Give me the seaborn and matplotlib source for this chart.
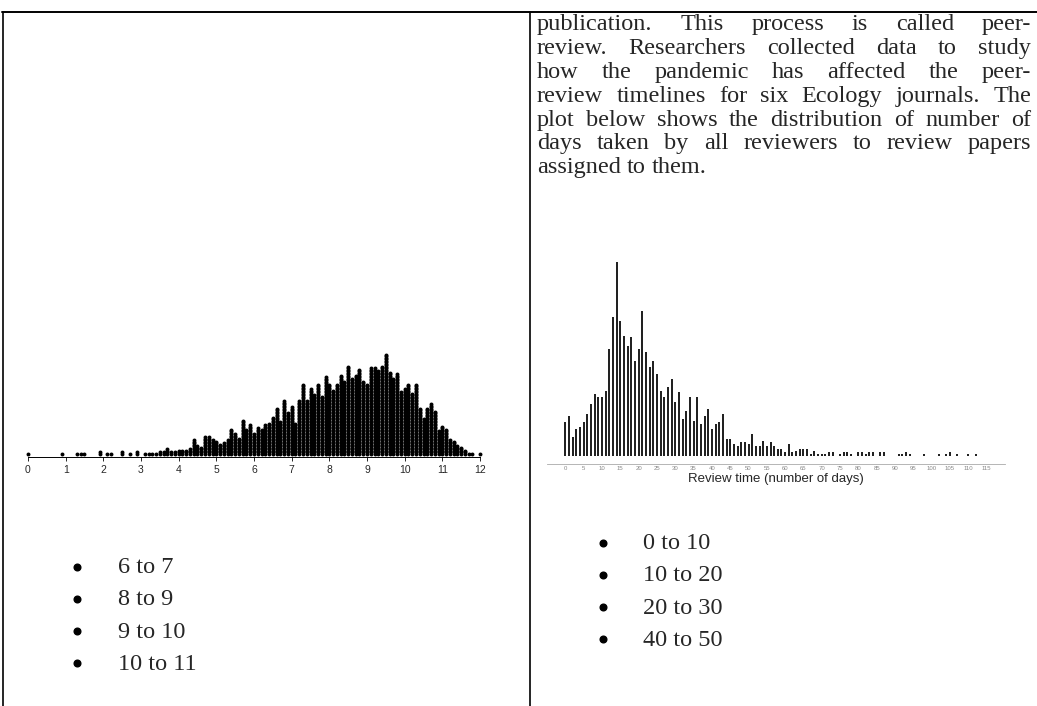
import numpy as np
import pandas as pd
import seaborn as sns
import matplotlib
matplotlib.use("Agg")
import matplotlib.pyplot as plt

# ---- data ----
# left dot plot: dots stacked at each score 0.0, 0.1, ..., 12.0
score_counts = [1, 0, 0, 0, 0, 0, 0, 0, 0, 1,
                0, 0, 0, 1, 1, 1, 0, 0, 0, 2,
                0, 1, 1, 0, 0, 2, 0, 1, 0, 2,
                0, 1, 1, 1, 1, 2, 2, 4, 2, 2,
                3, 3, 3, 4, 10, 6, 5, 12, 12, 10,
                9, 7, 8, 10, 17, 14, 11, 23, 17, 20,
                14, 18, 17, 20, 21, 25, 31, 22, 36, 28,
                32, 21, 36, 47, 36, 44, 40, 47, 39, 52,
                47, 43, 47, 53, 49, 59, 51, 53, 57, 49,
                47, 58, 58, 56, 59, 67, 55, 51, 54, 42,
                44, 47, 41, 47, 31, 24, 31, 34, 29, 16,
                19, 17, 10, 9, 6, 5, 3, 1, 1, 0,
                1]
score_ticks = list(range(0, 13))

# right dot plot: reviewers per review time (days 0..112)
day_counts = [20, 24, 11, 16, 17, 20, 25, 31, 37, 35,
              35, 39, 64, 83, 116, 81, 72, 66, 71, 57,
              64, 87, 62, 53, 57, 49, 39, 35, 41, 46,
              32, 38, 22, 27, 35, 21, 35, 19, 24, 28,
              16, 19, 20, 25, 10, 10, 7, 6, 8, 8,
              7, 13, 6, 6, 9, 6, 8, 6, 4, 4,
              2, 7, 2, 3, 4, 4, 4, 1, 3, 1,
              1, 1, 2, 2, 0, 1, 2, 2, 1, 0,
              2, 2, 1, 2, 2, 0, 2, 2, 0, 0,
              0, 1, 1, 2, 1, 0, 0, 0, 1, 0,
              0, 0, 1, 0, 1, 2, 0, 1, 0, 0,
              1, 0, 1]
day_ticks = list(range(0, 116, 5))
day_label = "Review time (number of days)"

paragraph = [
    "publication. This process is called peer-",
    "review. Researchers collected data to study",
    "how the pandemic has affected the peer-",
    "review timelines for six Ecology journals. The",
    "plot below shows the distribution of number of",
    "days taken by all reviewers to review papers",
    "assigned to them.",
]
left_options = ["6 to 7", "8 to 9", "9 to 10", "10 to 11"]
right_options = ["0 to 10", "10 to 20", "20 to 30", "40 to 50"]

# expand counts into stacked dots
left_x = np.arange(len(score_counts)) / 10
left_df = pd.DataFrame({
    "score": np.repeat(left_x, score_counts),
    "level": np.concatenate([np.arange(c) for c in score_counts]),
})
right_df = pd.DataFrame({
    "days": np.repeat(np.arange(len(day_counts)), day_counts),
    "level": np.concatenate([np.arange(c) + 0.5 for c in day_counts]),
})

sns.set_style("white")
plt.rcParams["font.family"] = ["Liberation Serif", "DejaVu Serif"]

W, H = 1037, 706
fig = plt.figure(figsize=(W / 100, H / 100), dpi=100)

# page layer in pixel coordinates
page = fig.add_axes([0, 0, 1, 1])
page.set_xlim(0, W)
page.set_ylim(H, 0)
page.axis("off")

# table borders
page.plot([2, W], [12, 12], color="black", lw=1.4)
page.plot([3, 3], [12, H], color="black", lw=1.2)
page.plot([530, 530], [12, H], color="black", lw=1.2)


def px_axes(left, top, right, bottom):
    return fig.add_axes([left / W, 1 - bottom / H, (right - left) / W, (bottom - top) / H])


# ---- left dot plot ----
ax1 = px_axes(20, 340, 490, 457.3)
sns.scatterplot(data=left_df, x="score", y="level", ax=ax1, s=8,
                color="black", linewidth=0, legend=False)
ax1.set_xlim(-8 / 37.67, 12 + 10 / 37.67)
ax1.set_ylim(-2.53, 75.7)
ax1.set_xticks(score_ticks)
ax1.set_xticklabels([str(t) for t in score_ticks], family="Liberation Sans", fontsize=7.5)
ax1.tick_params(axis="x", length=3.2, width=0.7, pad=2.5, bottom=True)
ax1.set_yticks([])
ax1.set_xlabel("")
ax1.set_ylabel("")
for s in ["left", "right", "top"]:
    ax1.spines[s].set_visible(False)
ax1.spines["bottom"].set_bounds(0, 12)
ax1.spines["bottom"].set_linewidth(0.7)
ax1.spines["bottom"].set_color("black")
ax1.patch.set_alpha(0)

# ---- right dot plot ----
ax2 = px_axes(547, 250, 1005, 464.3)
sns.scatterplot(data=right_df, x="days", y="level", ax=ax2, s=2.0,
                color="#222222", linewidth=0, marker="s", legend=False)
ax2.set_xlim(-5, 120)
ax2.set_ylim(-5.16, 123.4)
ax2.set_xticks(day_ticks)
ax2.set_xticklabels([str(t) for t in day_ticks], family="Liberation Sans",
                    fontsize=4.3, color="#888888")
ax2.tick_params(axis="x", length=0, pad=1.5)
ax2.set_yticks([])
ax2.set_xlabel(day_label, family="Liberation Sans", fontsize=9.5, labelpad=1.5)
ax2.set_ylabel("")
for s in ["left", "right", "top"]:
    ax2.spines[s].set_visible(False)
ax2.spines["bottom"].set_color("#aaaaaa")
ax2.spines["bottom"].set_linewidth(0.6)
ax2.patch.set_alpha(0)

# ---- justified paragraph ----
fs = 17.5
renderer = fig.canvas.get_renderer()
x0, x1 = 537, 1031
baselines = [30, 54, 78, 102, 126, 149, 173]
space_w = fs * 100 / 72 * 0.25
for i, (line, yb) in enumerate(zip(paragraph, baselines)):
    words = line.split(" ")
    texts = [page.text(0, yb, w, fontsize=fs, va="baseline", ha="left") for w in words]
    widths = [t.get_window_extent(renderer).width for t in texts]
    if i < len(paragraph) - 1:
        gap = (x1 - x0 - sum(widths)) / (len(words) - 1)
    else:
        gap = space_w
    x = x0
    for t, w in zip(texts, widths):
        t.set_x(x)
        x += w + gap

# ---- bullet lists ----
for j, opt in enumerate(left_options):
    yb = 573 + 32.3 * j
    page.plot(77, yb - 6.5, "o", color="black", markersize=4.8)
    page.text(118, yb, opt, fontsize=fs, va="baseline", ha="left")

for j, opt in enumerate(right_options):
    yb = 549 + 32.3 * j
    page.plot(603, yb - 6.5, "o", color="black", markersize=4.8)
    page.text(643, yb, opt, fontsize=fs, va="baseline", ha="left")

fig.savefig("out.png", dpi=100)
